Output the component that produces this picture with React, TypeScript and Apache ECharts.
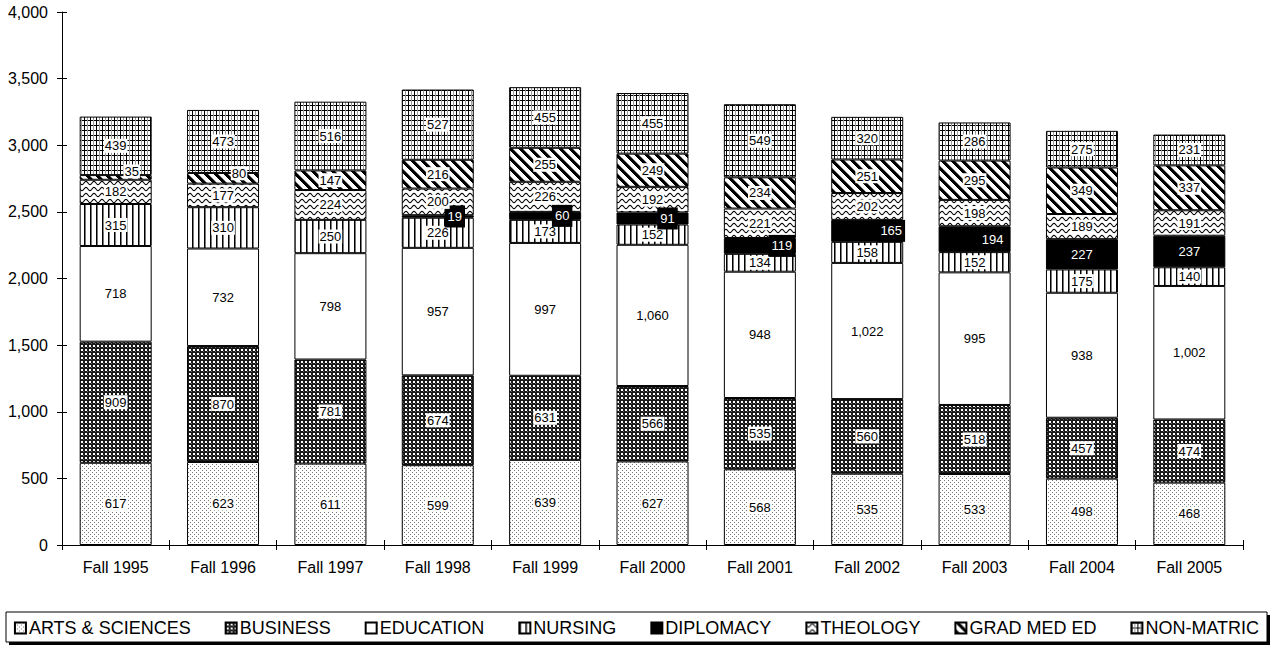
import React, { useEffect, useRef } from "react";
import * as echarts from "echarts";

const categories = [
  "Fall 1995", "Fall 1996", "Fall 1997", "Fall 1998", "Fall 1999", "Fall 2000",
  "Fall 2001", "Fall 2002", "Fall 2003", "Fall 2004", "Fall 2005",
];
const artsSciences = [617, 623, 611, 599, 639, 627, 568, 535, 533, 498, 468];
const business = [909, 870, 781, 674, 631, 566, 535, 560, 518, 457, 474];
const education = [718, 732, 798, 957, 997, 1060, 948, 1022, 995, 938, 1002];
const nursing = [315, 310, 250, 226, 173, 152, 134, 158, 152, 175, 140];
const diplomacy = [null, null, null, 19, 60, 91, 119, 165, 194, 227, 237];
const theology = [182, 177, 224, 200, 226, 192, 221, 202, 198, 189, 191];
const gradMedEd = [35, 80, 147, 216, 255, 249, 234, 251, 295, 349, 337];
const nonMatric = [439, 473, 516, 527, 455, 455, 549, 320, 286, 275, 231];
const yTicks = [0, 500, 1000, 1500, 2000, 2500, 3000, 3500, 4000];

const FONT = "'Liberation Sans', Arial, Helvetica, sans-serif";

function makePattern(w: number, h: number, draw: (ctx: CanvasRenderingContext2D) => void) {
  const c = document.createElement("canvas");
  c.width = w;
  c.height = h;
  const ctx = c.getContext("2d")!;
  ctx.fillStyle = "#fff";
  ctx.fillRect(0, 0, w, h);
  draw(ctx);
  return { image: c.toDataURL(), repeat: "repeat", imageWidth: w, imageHeight: h } as any;
}

function px(ctx: CanvasRenderingContext2D, x: number, y: number, color: string) {
  ctx.fillStyle = color;
  ctx.fillRect(x, y, 1, 1);
}

function buildPatterns() {
  const arts = makePattern(4, 4, (ctx) => {
    px(ctx, 0, 0, "#777");
    px(ctx, 2, 2, "#777");
  });
  const bus = makePattern(4, 4, (ctx) => {
    ctx.fillStyle = "#1a1a1a";
    ctx.fillRect(0, 0, 4, 4);
    ctx.fillStyle = "#fff";
    ctx.fillRect(1, 1, 2, 2);
    px(ctx, 3, 3, "#666");
  });
  const edu = "#ffffff";
  const nur = makePattern(6, 2, (ctx) => {
    ctx.fillStyle = "#000";
    ctx.fillRect(0, 0, 1, 2);
    ctx.fillStyle = "#777";
    ctx.fillRect(1, 0, 1, 2);
  });
  const dip = "#000000";
  const theo = makePattern(8, 6, (ctx) => {
    ctx.strokeStyle = "#000";
    ctx.lineWidth = 1.1;
    ctx.beginPath();
    for (let x = -1; x <= 9; x += 0.5) {
      const y = 3 + 1.6 * Math.sin((2 * Math.PI * x) / 8);
      if (x === -1) ctx.moveTo(x, y);
      else ctx.lineTo(x, y);
    }
    ctx.stroke();
  });
  const grad = makePattern(10, 10, (ctx) => {
    for (let y = 0; y < 10; y++) {
      for (let x = 0; x < 10; x++) {
        const d = (((x - y) % 10) + 10) % 10;
        if (d < 4) px(ctx, x, y, "#000");
        else if (d === 4) px(ctx, x, y, "#888");
      }
    }
  });
  const non = makePattern(6, 5, (ctx) => {
    ctx.fillStyle = "#000";
    ctx.fillRect(0, 0, 6, 1);
    ctx.fillRect(0, 0, 1, 5);
    ctx.fillStyle = "#999";
    ctx.fillRect(3, 0, 1, 5);
  });
  return { arts, bus, edu, nur, dip, theo, grad, non };
}

// label offsets for small segments (display tweaks, not data)
const labelOffsets: Record<string, Record<number, [number, number]>> = {
  "GRAD MED ED": { 0: [16, -6], 1: [16, -5] },
  DIPLOMACY: { 3: [17, 0], 4: [17, 0], 5: [15, 0], 6: [22, 0], 7: [24, 0], 8: [18, 0] },
};

export default function App() {
  const ref = useRef<HTMLDivElement>(null);
  useEffect(() => {
    if (!ref.current) return;
    const chart = echarts.init(ref.current, undefined, { renderer: "svg" });
    const p = buildPatterns();
    const seriesDefs: { name: string; data: (number | null)[]; fill: any; dark?: boolean }[] = [
      { name: "ARTS & SCIENCES", data: artsSciences, fill: p.arts },
      { name: "BUSINESS", data: business, fill: p.bus },
      { name: "EDUCATION", data: education, fill: p.edu },
      { name: "NURSING", data: nursing, fill: p.nur },
      { name: "DIPLOMACY", data: diplomacy, fill: p.dip, dark: true },
      { name: "THEOLOGY", data: theology, fill: p.theo },
      { name: "GRAD MED ED", data: gradMedEd, fill: p.grad },
      { name: "NON-MATRIC", data: nonMatric, fill: p.non },
    ];
    const fmt = (v: number) => v.toLocaleString("en-US");
    const series = seriesDefs.map((s) => ({
      name: s.name,
      type: "bar",
      stack: "total",
      barWidth: 72,
      xAxisIndex: 0,
      yAxisIndex: 0,
      itemStyle: { color: s.fill, borderColor: "#000", borderWidth: 1 },
      label: {
        show: true,
        position: "inside",
        fontFamily: FONT,
        fontSize: 13,
        color: s.dark ? "#fff" : "#000",
        backgroundColor: s.dark ? "#000" : "#fff",
        padding: s.dark ? [5, 3, 4, 3] : [1, 1, 0, 1],
        formatter: (prm: any) => (prm.value == null ? "" : fmt(prm.value)),
      },
      data: s.data.map((v, i) => {
        const off = labelOffsets[s.name] && labelOffsets[s.name][i];
        if (off) return { value: v, label: { offset: off } };
        return v;
      }),
    }));

    chart.setOption({
      animation: false,
      backgroundColor: "#fff",
      textStyle: { fontFamily: FONT },
      grid: { left: 62, right: 30, top: 12, bottom: 104, containLabel: false },
      xAxis: [
        {
          type: "category",
          data: categories,
          position: "bottom",
          axisLine: { show: true, lineStyle: { color: "#000", width: 1 } },
          axisTick: { show: true, length: 5, lineStyle: { color: "#000" } },
          axisLabel: { fontFamily: FONT, fontSize: 16, color: "#000", margin: 14 },
        },
        {
          type: "category",
          data: categories,
          position: "bottom",
          axisLine: { show: false },
          axisTick: { show: true, inside: true, length: 5, lineStyle: { color: "#000" } },
          axisLabel: { show: false },
        },
      ],
      yAxis: [
        {
          type: "value",
          min: yTicks[0],
          max: yTicks[yTicks.length - 1],
          interval: 500,
          position: "left",
          splitLine: { show: false },
          axisLine: { show: true, lineStyle: { color: "#000", width: 1 } },
          axisTick: { show: true, length: 5, lineStyle: { color: "#000" } },
          axisLabel: {
            fontFamily: FONT,
            fontSize: 16,
            color: "#000",
            margin: 14,
            formatter: (v: number) => fmt(v),
          },
        },
        {
          type: "value",
          min: yTicks[0],
          max: yTicks[yTicks.length - 1],
          interval: 500,
          position: "left",
          splitLine: { show: false },
          axisLine: { show: false },
          axisTick: { show: true, inside: true, length: 5, lineStyle: { color: "#000" } },
          axisLabel: { show: false },
        },
      ],
      legend: {
        left: "center",
        top: 614,
        z: 10,
        itemWidth: 11,
        itemHeight: 11,
        itemGap: 34,
        icon: "rect",
        textStyle: { fontFamily: FONT, fontSize: 18, color: "#000", padding: [0, 0, 0, -2] },
        data: seriesDefs.map((s) => s.name),
      },
      graphic: [
        {
          type: "rect",
          z: 0,
          shape: { x: 9, y: 615, width: 1261, height: 30 },
          style: { fill: "#000" },
        },
        {
          type: "rect",
          z: 1,
          shape: { x: 6, y: 612, width: 1261, height: 30 },
          style: { fill: "#fff", stroke: "#000", lineWidth: 1 },
        },
      ],
      series,
    });
    return () => chart.dispose();
  }, []);
  return (
    <div
      ref={ref}
      style={{ position: "fixed", left: 0, top: 0, width: 1273, height: 649 }}
    />
  );
}
